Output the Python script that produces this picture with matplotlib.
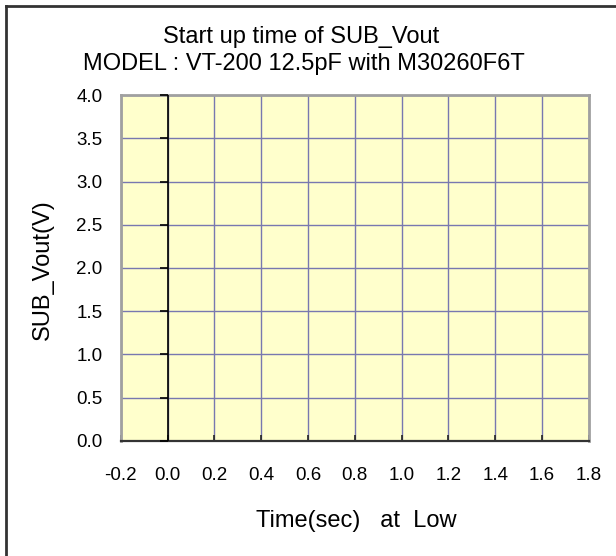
import numpy as np
import matplotlib.pyplot as plt
from matplotlib.lines import Line2D

plt.rcParams['font.family'] = ['Liberation Sans', 'DejaVu Sans']

title1 = "Start up time of SUB_Vout"
title2 = "MODEL : VT-200 12.5pF with M30260F6T"
xlabel = "Time(sec)   at  Low"
ylabel = "SUB_Vout(V)"

xticks = [-0.2, 0.0, 0.2, 0.4, 0.6, 0.8, 1.0, 1.2, 1.4, 1.6, 1.8]
yticks = [0.0, 0.5, 1.0, 1.5, 2.0, 2.5, 3.0, 3.5, 4.0]

W, H = 616, 556
fig = plt.figure(figsize=(W / 100, H / 100), dpi=100)
ax = fig.add_axes([0.196, 0.207, 0.760, 0.622])
ax.set_facecolor('#ffffcc')

ax.set_xlim(xticks[0], xticks[-1])
ax.set_ylim(yticks[0], yticks[-1])
ax.set_xticks(xticks)
ax.set_yticks(yticks)
ax.set_xticklabels(["%.1f" % v for v in xticks])
ax.set_yticklabels(["%.1f" % v for v in yticks])
ax.grid(True, color='#7878b0', linewidth=1.0)
ax.set_axisbelow(True)

ax.tick_params(axis='x', direction='in', length=4, width=1.2, color='#222222',
               labelsize=13.5, pad=19)
ax.tick_params(axis='y', length=0, labelsize=13.5, pad=13)

for s in ['left', 'top', 'right']:
    ax.spines[s].set_color('#a0a0a0')
    ax.spines[s].set_linewidth(2)
ax.spines['bottom'].set_color('#333333')
ax.spines['bottom'].set_linewidth(1.6)

# y axis crossing at x = 0 with its own small ticks
ax.axvline(0, color='black', linewidth=1.2, zorder=3)
ax.scatter([0] * len(yticks), yticks, marker=0, s=30, color='black',
           linewidths=1.2, zorder=3, clip_on=False)

# titles and axis labels (larger font in the original chart)
fig.text(301 / W, 1 - 43 / H, title1, ha='center', va='baseline', fontsize=17)
fig.text(304 / W, 1 - 70 / H, title2, ha='center', va='baseline', fontsize=17)
fig.text(356 / W, 1 - 527 / H, xlabel, ha='center', va='baseline', fontsize=17)
fig.text(43 / W, 1 - 270 / H, ylabel, ha='center', va='center', rotation=90,
         fontsize=17)

# outer chart frame (only left and top edges visible)
fig.add_artist(Line2D([5.5 / W, 5.5 / W], [0, 1 - 5.5 / H],
                      color='#333333', linewidth=2))
fig.add_artist(Line2D([5.5 / W, 1], [1 - 5.5 / H, 1 - 5.5 / H],
                      color='#333333', linewidth=2))

fig.savefig('out.png', dpi=100)
